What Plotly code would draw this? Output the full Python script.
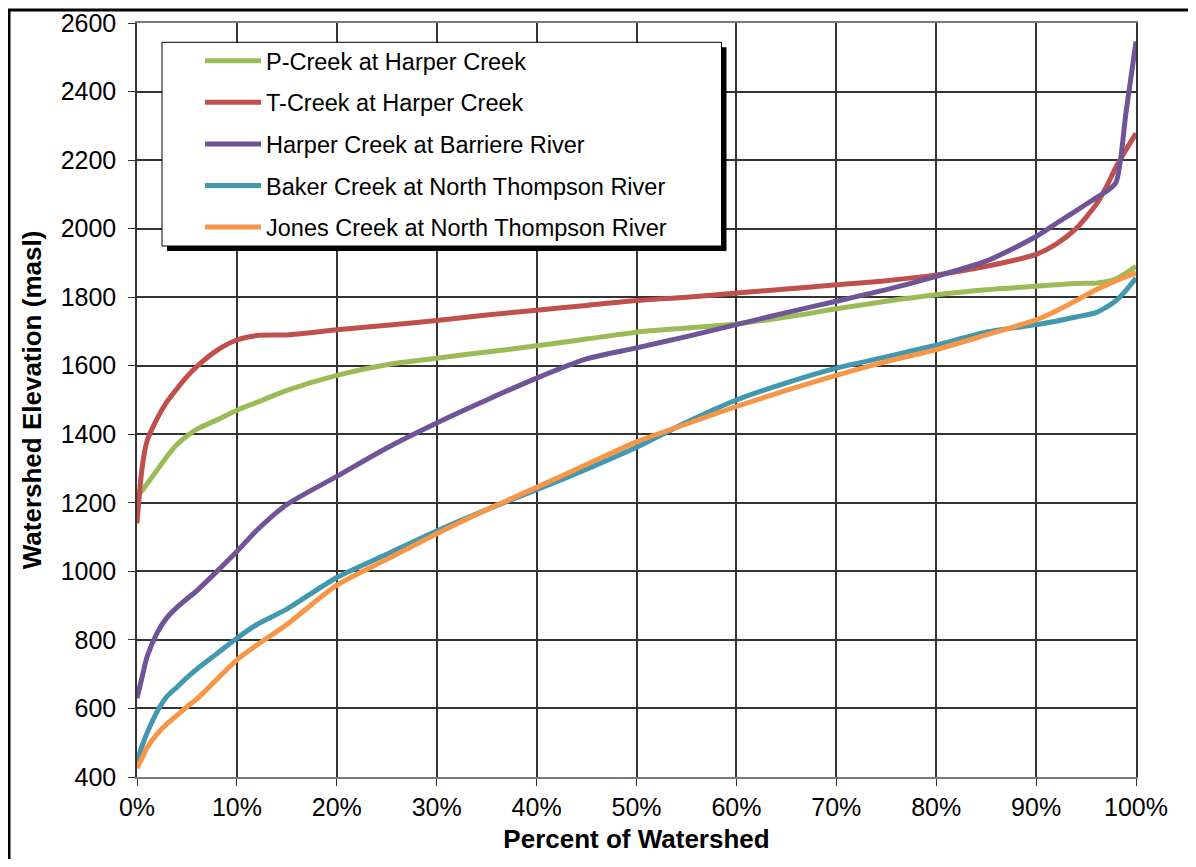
"""Watershed hypsometric curves — Plotly chart."""
import plotly.graph_objects as go

# percent of watershed (x axis)
pct = [0, 0.5, 1, 2, 3, 4, 5, 6, 8, 10, 12, 15, 20, 25, 30, 35, 40, 45, 50,
       55, 60, 65, 70, 75, 80, 85, 90, 92, 94, 96, 97, 98, 99, 100]

p_creek = [1218, 1235, 1255, 1295, 1335, 1370, 1395, 1415, 1442, 1470, 1493,
           1528, 1572, 1603, 1622, 1640, 1658, 1678, 1698, 1710, 1722, 1742,
           1766, 1788, 1807, 1822, 1832, 1836, 1840, 1841, 1845, 1853, 1870, 1890]

t_creek = [1140, 1300, 1380, 1445, 1495, 1533, 1568, 1598, 1645, 1675, 1688,
           1690, 1705, 1718, 1732, 1748, 1762, 1776, 1790, 1800, 1812, 1824,
           1836, 1848, 1865, 1890, 1925, 1955, 2000, 2070, 2120, 2180, 2230, 2278]

harper = [630, 690, 750, 820, 865, 895, 920, 944, 1000, 1058, 1120, 1195, 1277,
          1360, 1433, 1500, 1564, 1620, 1652, 1685, 1720, 1755, 1788, 1822,
          1861, 1905, 1977, 2015, 2052, 2090, 2108, 2135, 2339, 2546]

baker = [445, 490, 528, 590, 635, 662, 690, 715, 760, 805, 845, 890, 982,
         1050, 1118, 1180, 1238, 1298, 1362, 1435, 1500, 1550, 1593, 1626,
         1660, 1698, 1720, 1730, 1742, 1755, 1770, 1790, 1820, 1856]

jones = [426, 455, 485, 525, 555, 580, 605, 628, 685, 742, 785, 845, 960,
         1035, 1110, 1180, 1245, 1312, 1378, 1430, 1481, 1528, 1572, 1612,
         1647, 1690, 1734, 1760, 1790, 1822, 1835, 1848, 1860, 1870]

series = [
    ("P-Creek at Harper Creek", p_creek, "#9BBB59"),
    ("T-Creek at Harper Creek", t_creek, "#C0504D"),
    ("Harper Creek at Barriere River", harper, "#6F5597"),
    ("Baker Creek at North Thompson River", baker, "#4198AF"),
    ("Jones Creek at North Thompson River", jones, "#F79646"),
]

FONT = "Liberation Sans, Arial, sans-serif"
GRID = "#333333"

fig = go.Figure()
for name, vals, color in series:
    fig.add_trace(go.Scatter(
        x=pct, y=vals, name=name, mode="lines",
        line=dict(color=color, width=5, shape="spline", smoothing=0.7),
        legendgroup=name,
    ))


# paper coords from page pixels: plot area spans x 137..1136, y 23..777
def px(x):
    return (x - 137) / 999


def py(y):
    return (777 - y) / 754


shapes = [
    # outer frame
    dict(type="rect", xref="paper", yref="paper", layer="below",
         x0=px(9), x1=1.3, y0=-0.4, y1=py(10),
         line=dict(color="black", width=3), fillcolor="rgba(0,0,0,0)"),
    # legend shadow + box
    dict(type="rect", xref="paper", yref="paper", layer="above",
         x0=px(167), x1=px(726.5), y0=py(251), y1=py(47.3),
         line=dict(width=0), fillcolor="black"),
    dict(type="rect", xref="paper", yref="paper", layer="above",
         x0=px(162), x1=px(721.5), y0=py(246), y1=py(42.3),
         line=dict(color="black", width=1), fillcolor="white"),
]

# page has an 8px body margin, so the figure is 16px smaller than the window
fig.update_layout(
    width=1188,
    height=851,
    margin=dict(l=129, r=60, t=15, b=82, autoexpand=False),
    plot_bgcolor="white",
    paper_bgcolor="white",
    font=dict(family=FONT, color="black", size=25),
    shapes=shapes,
    showlegend=True,
    legend=dict(
        x=px(200), y=py(39), xanchor="left", yanchor="top",
        bgcolor="rgba(0,0,0,0)", borderwidth=0,
        font=dict(size=23.5), tracegroupgap=8, itemwidth=56,
        traceorder="grouped",
    ),
    xaxis=dict(
        range=[0, 100], dtick=10, ticksuffix="%",
        showgrid=True, gridcolor=GRID, gridwidth=1.5,
        showline=True, linecolor="#7a7a7a", linewidth=2, mirror=True,
        ticks="outside", ticklen=7, tickcolor=GRID,
        zeroline=False, automargin=False,
        tickfont=dict(size=25),
        title=dict(text="<b>Percent of Watershed</b>", font=dict(size=26),
                   standoff=10),
    ),
    yaxis=dict(
        range=[400, 2600], dtick=200,
        showgrid=True, gridcolor=GRID, gridwidth=1.5,
        showline=True, linecolor=GRID, linewidth=1.5, mirror=True,
        ticks="outside", ticklen=7, tickcolor=GRID,
        ticklabelstandoff=7,
        zeroline=False, automargin=False,
        tickfont=dict(size=25),
        title=dict(text="<b>Watershed Elevation (masl)</b>", font=dict(size=26),
                   standoff=12),
    ),
)

fig.write_html("out.html")
